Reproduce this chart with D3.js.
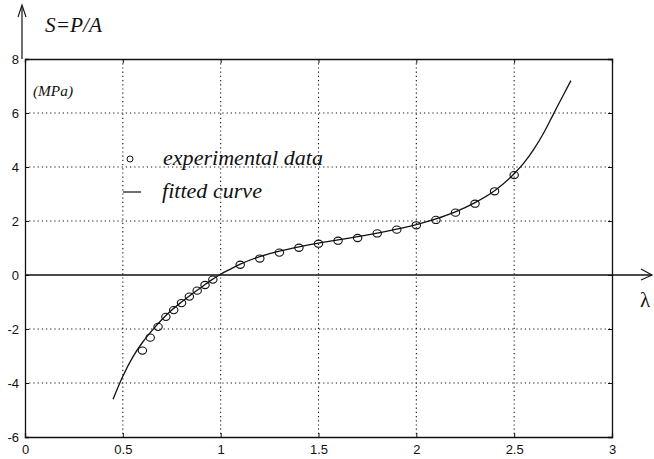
<!DOCTYPE html>
<html>
<head>
<meta charset="utf-8">
<script src="https://cdn.jsdelivr.net/npm/d3@7"></script>
<style>
  html, body { margin: 0; padding: 0; background: #fff; }
  svg { display: block; }
  .serif { font-family: "Liberation Serif", "Times New Roman", "DejaVu Serif", serif; }
  .sans { font-family: "Liberation Sans", Arial, Helvetica, sans-serif; }
</style>
</head>
<body>
<svg id="chart" width="654" height="459"></svg>
<script>
// Stretch (lambda) vs. nominal stress S = P/A
const xTicks = [0, 0.5, 1, 1.5, 2, 2.5, 3];
const xTickLabels = ["0", "0.5", "1", "1.5", "2", "2.5", "3"];
const yTicks = [-6, -4, -2, 0, 2, 4, 6, 8];
const yTickLabels = ["-6", "-4", "-2", "0", "2", "4", "6", "8"];

// Measured points
const expLambda = [0.60, 0.64, 0.68, 0.72, 0.76, 0.80, 0.84, 0.88, 0.92, 0.96,
                   1.10, 1.20, 1.30, 1.40, 1.50, 1.60, 1.70, 1.80, 1.90, 2.00,
                   2.10, 2.20, 2.30, 2.40, 2.50];
const expStress = [-2.80, -2.32, -1.92, -1.55, -1.30, -1.04, -0.80, -0.58, -0.37, -0.17,
                   0.38, 0.61, 0.83, 1.01, 1.16, 1.27, 1.37, 1.54, 1.68, 1.84,
                   2.04, 2.31, 2.64, 3.10, 3.70];

// Fitted model curve
const fitLambda = [0.45, 0.50, 0.55, 0.60, 0.65, 0.70, 0.75, 0.80, 0.85, 0.90, 0.95,
                   1.00, 1.05, 1.10, 1.20, 1.30, 1.40, 1.50, 1.60, 1.70, 1.80, 1.90,
                   2.00, 2.10, 2.20, 2.30, 2.40, 2.50, 2.55, 2.60, 2.65, 2.70, 2.75, 2.79];
const fitStress = [-4.60, -3.75, -3.05, -2.50, -2.05, -1.65, -1.30, -1.00, -0.72, -0.46, -0.20,
                   0.03, 0.22, 0.40, 0.68, 0.88, 1.04, 1.18, 1.30, 1.42, 1.55, 1.70,
                   1.87, 2.08, 2.34, 2.68, 3.12, 3.75, 4.15, 4.65, 5.25, 5.95, 6.65, 7.20];

const svg = d3.select("#chart");
const x = d3.scaleLinear().domain([0, 3]).range([25, 612]);
const y = d3.scaleLinear().domain([-6, 8]).range([437, 59]);
const ink = "#111";

// Dotted grid
const grid = svg.append("g");
grid.selectAll("line.gx").data(xTicks.filter(d => d > 0 && d < 3)).join("line")
  .attr("x1", d => x(d)).attr("x2", d => x(d))
  .attr("y1", y(8)).attr("y2", y(-6))
  .attr("stroke", ink).attr("stroke-width", 1.1).attr("stroke-dasharray", "1.2,3");
grid.selectAll("line.gy").data(yTicks.filter(d => d > -6 && d < 8 && d !== 0)).join("line")
  .attr("x1", x(0)).attr("x2", x(3))
  .attr("y1", d => y(d)).attr("y2", d => y(d))
  .attr("stroke", ink).attr("stroke-width", 1.1).attr("stroke-dasharray", "1.2,3");

// Axes with short inward ticks
const axB = d3.axisBottom(x).tickValues(xTicks).tickFormat((d, i) => xTickLabels[i]).tickSize(-4).tickPadding(8);
const axL = d3.axisLeft(y).tickValues(yTicks).tickFormat((d, i) => yTickLabels[i]).tickSize(-4).tickPadding(6);
const axT = d3.axisTop(x).tickValues(xTicks).tickFormat("").tickSize(-4);
const axR = d3.axisRight(y).tickValues(yTicks).tickFormat("").tickSize(-4);

function styleAxis(g) {
  g.attr("font-family", null).attr("font-size", null);
  g.select(".domain").attr("stroke", ink).attr("stroke-width", 1.3);
  g.selectAll(".tick line").attr("stroke", ink).attr("stroke-width", 1);
  g.selectAll(".tick text").attr("fill", ink).attr("class", "sans").style("font-size", "13px");
}
svg.append("g").attr("transform", `translate(0,${y(-6)})`).call(axB).call(styleAxis);
svg.append("g").attr("transform", `translate(${x(0)},0)`).call(axL).call(styleAxis);
svg.append("g").attr("transform", `translate(0,${y(8)})`).call(axT).call(styleAxis);
svg.append("g").attr("transform", `translate(${x(3)},0)`).call(axR).call(styleAxis);

// Lambda axis through zero, extended with an open arrowhead
const zy = y(0);
svg.append("line").attr("x1", x(0)).attr("x2", 652).attr("y1", zy).attr("y2", zy)
  .attr("stroke", ink).attr("stroke-width", 1.3);
svg.append("path").attr("d", `M641,${zy - 6} L652,${zy} L641,${zy + 5}`)
  .attr("fill", "none").attr("stroke", ink).attr("stroke-width", 1.1);
svg.append("text").attr("class", "serif").attr("x", 640).attr("y", zy + 32).text("λ")
  .style("font-size", "21px").attr("fill", ink);

// Stress axis arrow above the frame
svg.append("line").attr("x1", 22).attr("x2", 22).attr("y1", y(8)).attr("y2", 6)
  .attr("stroke", ink).attr("stroke-width", 1.2);
svg.append("path").attr("d", "M18,17 L22,5 L26,17")
  .attr("fill", "none").attr("stroke", ink).attr("stroke-width", 1.1);
svg.append("text").attr("class", "serif").attr("x", 45).attr("y", 32).text("S=P/A")
  .attr("textLength", 57).attr("lengthAdjust", "spacingAndGlyphs")
  .style("font-style", "italic").style("font-size", "20px").attr("fill", ink);
svg.append("text").attr("class", "serif").attr("x", 33).attr("y", 96).text("(MPa)")
  .attr("textLength", 40).attr("lengthAdjust", "spacingAndGlyphs")
  .style("font-style", "italic").style("font-size", "14px").attr("fill", ink);

// Fitted curve
const line = d3.line().x(d => x(d[0])).y(d => y(d[1])).curve(d3.curveMonotoneX);
svg.append("path").datum(fitLambda.map((l, i) => [l, fitStress[i]]))
  .attr("d", line).attr("fill", "none").attr("stroke", ink).attr("stroke-width", 1.3);

// Experimental points
svg.append("g").selectAll("ellipse").data(expLambda.map((l, i) => [l, expStress[i]])).join("ellipse")
  .attr("cx", d => x(d[0])).attr("cy", d => y(d[1])).attr("rx", 4.2).attr("ry", 3.6)
  .attr("fill", "none").attr("stroke", ink).attr("stroke-width", 1.1);

// Legend
const lg = svg.append("g");
lg.append("circle").attr("cx", 130).attr("cy", 159).attr("r", 3).attr("fill", "none")
  .attr("stroke", ink).attr("stroke-width", 1);
lg.append("text").attr("class", "serif").attr("x", 163).attr("y", 165).text("experimental data")
  .attr("textLength", 160).attr("lengthAdjust", "spacingAndGlyphs")
  .style("font-style", "italic").style("font-size", "20px").attr("fill", ink);
lg.append("line").attr("x1", 123).attr("x2", 141).attr("y1", 192).attr("y2", 192)
  .attr("stroke", ink).attr("stroke-width", 1.2);
lg.append("text").attr("class", "serif").attr("x", 162).attr("y", 198).text("fitted curve")
  .attr("textLength", 100).attr("lengthAdjust", "spacingAndGlyphs")
  .style("font-style", "italic").style("font-size", "20px").attr("fill", ink);
</script>
</body>
</html>
